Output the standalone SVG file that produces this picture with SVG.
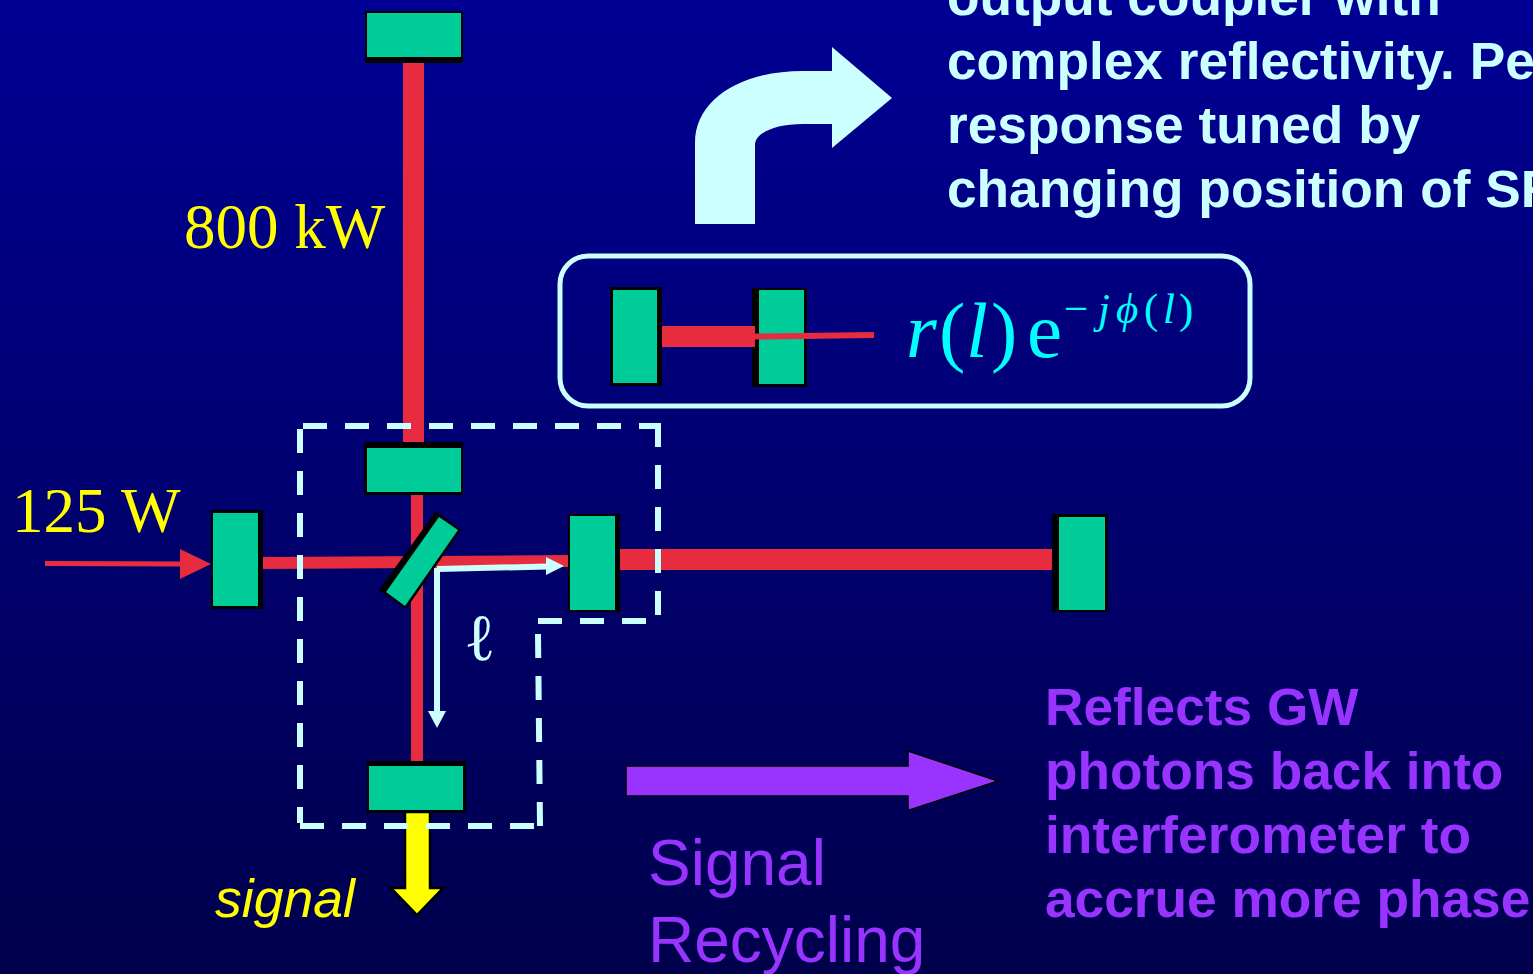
<svg xmlns="http://www.w3.org/2000/svg" width="1533" height="974" viewBox="0 0 1533 974">
<defs>
<linearGradient id="bg" x1="0" y1="0" x2="0" y2="1"><stop offset="0" stop-color="#000094"/><stop offset="1" stop-color="#00004c"/></linearGradient>
</defs>
<style>
.m{fill:#00cc99}
.b{fill:#000}
.red{stroke:#e62c3e;fill:none}
.wl{stroke:#ccffff;stroke-width:6;fill:none}
.dash{fill:none;stroke:#ccffff;stroke-width:6;stroke-dasharray:24 18}
.t{font-family:"Liberation Sans",Arial,sans-serif;font-weight:bold;font-size:51.200px}
.c{fill:#ccffff}
.p{fill:#9933ff}
.y{fill:#ffff00}
.s{font-family:"Liberation Serif","Times New Roman",serif}
.q{fill:#00ffff;font-family:"Liberation Serif","Times New Roman",serif}
</style>
<rect width="1533" height="974" fill="url(#bg)"/>
<g id="connectors">
<path class="red" stroke-width="21" d="M413.500 60V444"/>
<path class="red" stroke-width="12" d="M417 494V762"/>
<path class="red" stroke-width="12" d="M262 563L570 561"/>
<path class="red" stroke-width="21" d="M618 559.500H1054"/>
<path class="red" stroke-width="5" d="M45 563.500L185 564"/>
<path d="M180 549L211 564L180 579z" fill="#e62c3e"/>
<path d="M437 569L548 566.500" class="wl"/>
<path d="M546 557L564 566L546 575z" class="c"/>
<path d="M437 568V712" class="wl"/>
<path d="M428 711H446L437 728z" class="c"/>
<path d="M405 812H430V888H443L417 915L391 888H405z" fill="#ffff00" stroke="#000" stroke-width="2.500"/>
<path d="M626 766H908V751L998 781L908 810.500V796H626z" class="p" stroke="#000" stroke-width="1.500"/>
<path d="M695 224V143C695 100 740 71 803 71H832V47L892 98L832 148V124H803C775 124 755 133 755 145V224z" class="c"/>
<path class="dash" d="M303 426H660"/>
<path class="dash" d="M658 423V615"/>
<path class="dash" d="M646 621H538"/>
<path class="dash" d="M538 634L540 826"/>
<path class="dash" d="M300 826H534"/>
<path class="dash" d="M300 429V823"/>
</g>
<g id="box"><rect x="560" y="256" width="690" height="150" rx="28" fill="none" stroke="#ccffff" stroke-width="5"/></g>
<g id="mirror-top"><rect x="365" y="11" width="98" height="52" class="b"/><rect x="367" y="13" width="94" height="44" class="m"/></g>
<g id="mirror-itm-y"><rect x="364" y="442" width="99" height="53" class="b"/><rect x="367" y="448" width="94" height="44" class="m"/></g>
<g id="mirror-prm"><rect x="211" y="510" width="52" height="99" class="b"/><rect x="213" y="513" width="45" height="93" class="m"/></g>
<g id="mirror-itm-x"><rect x="568" y="514" width="52" height="98" class="b"/><rect x="570" y="516" width="45" height="94" class="m"/></g>
<g id="mirror-end-x"><rect x="1052" y="514" width="56" height="98" class="b"/><rect x="1059" y="517" width="46" height="93" class="m"/></g>
<g id="mirror-srm"><rect x="367" y="761" width="99" height="52" class="b"/><rect x="369" y="766" width="94" height="44" class="m"/></g>
<g id="beamsplitter"><path d="M436 511L461 530L406 609L379 590z" class="b"/><path d="M439 517L458 530L405 606L386 592z" class="m"/></g>
<g id="box-mirror-a"><rect x="610" y="287" width="52" height="99" class="b"/><rect x="613" y="290" width="44" height="93" class="m"/></g>
<g id="box-mirror-b"><rect x="752" y="288" width="55" height="99" class="b"/><rect x="759" y="290" width="45" height="94" class="m"/></g>
<g id="box-beam"><path d="M662 326H755V347H662z" fill="#e62c3e"/><path d="M755 336.500L874 335" class="red" stroke-width="6"/></g>
<g id="labels">
<text x="184" y="248" class="s y" font-size="63">800 kW</text>
<text x="12" y="532" class="s y" font-size="63">125 W</text>
<text x="215" y="917" font-family="Liberation Sans,Arial,sans-serif" font-style="italic" font-size="53.500" class="y">signal</text>
<text x="464" y="660" class="c s" font-size="66">ℓ</text>
<text class="t c" transform="translate(947 0) scale(1.04 1)"><tspan x="0" y="15">output coupler with</tspan><tspan x="0" y="79">complex reflectivity. Pe</tspan><tspan x="0" y="143">response tuned by</tspan><tspan x="0" y="207">changing position of SR</tspan></text>
<text class="t p" transform="translate(1045 0) scale(1.04 1)"><tspan x="0" y="725">Reflects GW</tspan><tspan x="0" y="789">photons back into</tspan><tspan x="0" y="853">interferometer to</tspan><tspan x="0" y="917">accrue more phase</tspan></text>
<text class="p" font-family="Liberation Sans,Arial,sans-serif" font-size="64"><tspan x="648" y="885">Signal</tspan><tspan x="648" y="962">Recycling</tspan></text>
<text class="q" font-size="79" y="357"><tspan x="906" font-style="italic">r</tspan><tspan x="939">(</tspan><tspan x="966" font-style="italic">l</tspan><tspan x="991">)</tspan><tspan x="1027">e</tspan></text>
<text class="q" font-size="43" y="323"><tspan x="1064">−</tspan><tspan x="1098" font-style="italic">j</tspan><tspan x="1116" font-style="italic">ϕ</tspan><tspan x="1144">(</tspan><tspan x="1163" font-style="italic">l</tspan><tspan x="1179">)</tspan></text>
</g>
</svg>
